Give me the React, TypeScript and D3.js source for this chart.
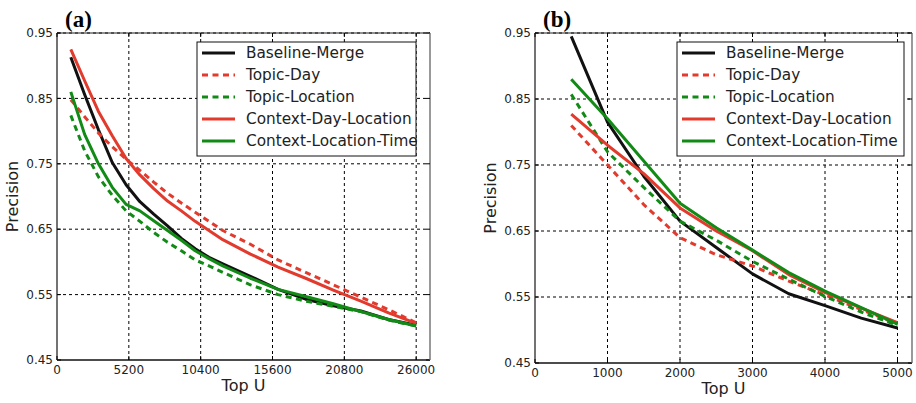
import * as d3 from 'd3';

// panel (a): Top U up to 26000
const topUA = [1000, 2000, 3000, 4000, 5000, 6000, 7000, 8000, 9000, 10000, 11000, 12000, 14000, 16000, 18000, 20000, 22000, 24000, 26000];
const baselineA = [0.913, 0.856, 0.802, 0.752, 0.718, 0.692, 0.673, 0.655, 0.636, 0.620, 0.607, 0.597, 0.578, 0.558, 0.543, 0.533, 0.525, 0.512, 0.503];
const topicDayA = [0.848, 0.822, 0.797, 0.776, 0.757, 0.740, 0.722, 0.705, 0.690, 0.676, 0.662, 0.648, 0.627, 0.603, 0.584, 0.565, 0.546, 0.527, 0.507];
const topicLocA = [0.824, 0.770, 0.730, 0.702, 0.678, 0.662, 0.645, 0.630, 0.617, 0.603, 0.594, 0.584, 0.565, 0.550, 0.540, 0.532, 0.524, 0.511, 0.502];
const ctxDayLocA = [0.925, 0.877, 0.830, 0.793, 0.758, 0.733, 0.712, 0.693, 0.678, 0.662, 0.648, 0.634, 0.612, 0.592, 0.575, 0.557, 0.540, 0.522, 0.506];
const ctxLocTimeA = [0.860, 0.795, 0.750, 0.714, 0.688, 0.678, 0.663, 0.648, 0.633, 0.617, 0.605, 0.594, 0.575, 0.558, 0.547, 0.536, 0.524, 0.512, 0.502];
const xTicksA = [0, 5200, 10400, 15600, 20800, 26000];

// panel (b): Top U up to 5000
const topUB = [500, 1000, 1500, 2000, 2500, 3000, 3500, 4000, 4500, 5000];
const baselineB = [0.945, 0.815, 0.733, 0.665, 0.625, 0.585, 0.555, 0.537, 0.518, 0.503];
const topicDayB = [0.810, 0.750, 0.690, 0.640, 0.614, 0.597, 0.574, 0.553, 0.531, 0.509];
const topicLocB = [0.857, 0.770, 0.716, 0.665, 0.636, 0.604, 0.577, 0.551, 0.527, 0.507];
const ctxDayLocB = [0.827, 0.780, 0.737, 0.685, 0.650, 0.620, 0.584, 0.557, 0.533, 0.511];
const ctxLocTimeB = [0.880, 0.820, 0.756, 0.692, 0.655, 0.621, 0.587, 0.559, 0.534, 0.509];
const xTicksB = [0, 1000, 2000, 3000, 4000, 5000];

const yTicks = [0.45, 0.55, 0.65, 0.75, 0.85, 0.95];
const seriesNames = ['Baseline-Merge', 'Topic-Day', 'Topic-Location', 'Context-Day-Location', 'Context-Location-Time'];

const RED = '#e23a2d';
const GREEN = '#128a16';
const styles = [
  { color: '#111', dash: null },
  { color: RED, dash: '6,4.5' },
  { color: GREEN, dash: '6,4.5' },
  { color: RED, dash: null },
  { color: GREEN, dash: null },
];

const font = 'DejaVu Sans, Verdana, sans-serif';

type PanelProps = {
  label: string;
  xs: number[];
  series: number[][];
  xMax: number;
  xTicks: number[];
  left: number;
  right: number;
  top: number;
  bottom: number;
  legendX: number;
  legendW: number;
};

function Panel({ label, xs, series, xMax, xTicks, left, right, top, bottom, legendX, legendW }: PanelProps) {
  const x = d3.scaleLinear().domain([0, xMax]).range([left, right]);
  const y = d3.scaleLinear().domain([0.45, 0.95]).range([bottom, top]);
  const line = d3.line<number>().x((_, i) => x(xs[i])).y((d) => y(d));

  return (
    <g>
      <text x={left + 8} y={27} fontFamily="Liberation Serif, Times New Roman, serif" fontWeight="bold" fontSize={23}>{label}</text>

      {/* grid */}
      {xTicks.filter((t) => t > 0).map((t) => (
        <line key={'gx' + t} x1={x(t)} x2={x(t)} y1={top} y2={bottom} stroke="#000" strokeWidth={1} strokeDasharray="3,3" />
      ))}
      {yTicks.filter((t) => t > 0.45).map((t) => (
        <line key={'gy' + t} x1={left} x2={right} y1={y(t)} y2={y(t)} stroke="#000" strokeWidth={1} strokeDasharray="3,3" />
      ))}

      {/* data */}
      {series.map((vals, i) => (
        <path key={i} d={line(vals) || ''} fill="none" stroke={styles[i].color} strokeWidth={3}
          strokeDasharray={styles[i].dash || undefined} strokeLinejoin="round" />
      ))}

      {/* spines */}
      <line x1={left} x2={right} y1={top} y2={top} stroke="#222" strokeWidth={1} />
      <line x1={left} x2={right} y1={bottom} y2={bottom} stroke="#111" strokeWidth={1.5} />
      <line x1={left} x2={left} y1={top} y2={bottom} stroke="#444" strokeWidth={1.5} />
      <line x1={right} x2={right} y1={top} y2={bottom} stroke="#999" strokeWidth={2} />

      {/* ticks */}
      {xTicks.map((t) => (
        <g key={'tx' + t}>
          <line x1={x(t)} x2={x(t)} y1={bottom} y2={bottom - 4} stroke="#000" />
          <line x1={x(t)} x2={x(t)} y1={top} y2={top + 4} stroke="#000" />
          <text x={x(t)} y={bottom + 13.5} textAnchor="middle" fontFamily={font} fontSize={12} fill="#222">{t}</text>
        </g>
      ))}
      {yTicks.map((t) => (
        <g key={'ty' + t}>
          <line x1={left} x2={left + 4} y1={y(t)} y2={y(t)} stroke="#000" />
          <line x1={right - 4} x2={right} y1={y(t)} y2={y(t)} stroke="#000" />
          <text x={left - 4} y={y(t)} dy="0.35em" textAnchor="end" fontFamily={font} fontSize={12} fill="#222">{t.toFixed(2)}</text>
        </g>
      ))}

      {/* axis labels */}
      <text x={(left + right) / 2} y={bottom + 31} textAnchor="middle" fontFamily={font} fontSize={16} fill="#222">Top U</text>
      <text transform={`translate(${left - 45},${(top + bottom) / 2}) rotate(-90)`} textAnchor="middle" dy="0.35em"
        fontFamily={font} fontSize={16} fill="#222">Precision</text>

      {/* legend */}
      <rect x={legendX} y={42} width={legendW} height={114} fill="#fff" stroke="#111" strokeWidth={1} />
      {seriesNames.map((name, i) => {
        const ry = 53 + i * 22;
        return (
          <g key={name}>
            <line x1={legendX + 5} x2={legendX + 38} y1={ry} y2={ry} stroke={styles[i].color} strokeWidth={3}
              strokeDasharray={styles[i].dash || undefined} />
            <text x={legendX + 49} y={ry} dy="0.35em" fontFamily={font} fontSize={15.3} fill="#222">{name}</text>
          </g>
        );
      })}
    </g>
  );
}

export default function App() {
  return (
    <svg width={916} height={403} style={{ display: 'block', position: 'absolute', left: 0, top: 0, background: '#fff' }}>
      <rect width={916} height={403} fill="#fff" />
      <Panel label="(a)" xs={topUA} series={[baselineA, topicDayA, topicLocA, ctxDayLocA, ctxLocTimeA]}
        xMax={27000} xTicks={xTicksA} left={57} right={430} top={33} bottom={360} legendX={197} legendW={219} />
      <Panel label="(b)" xs={topUB} series={[baselineB, topicDayB, topicLocB, ctxDayLocB, ctxLocTimeB]}
        xMax={5200} xTicks={xTicksB} left={535} right={912} top={33} bottom={363} legendX={677} legendW={227} />
    </svg>
  );
}
